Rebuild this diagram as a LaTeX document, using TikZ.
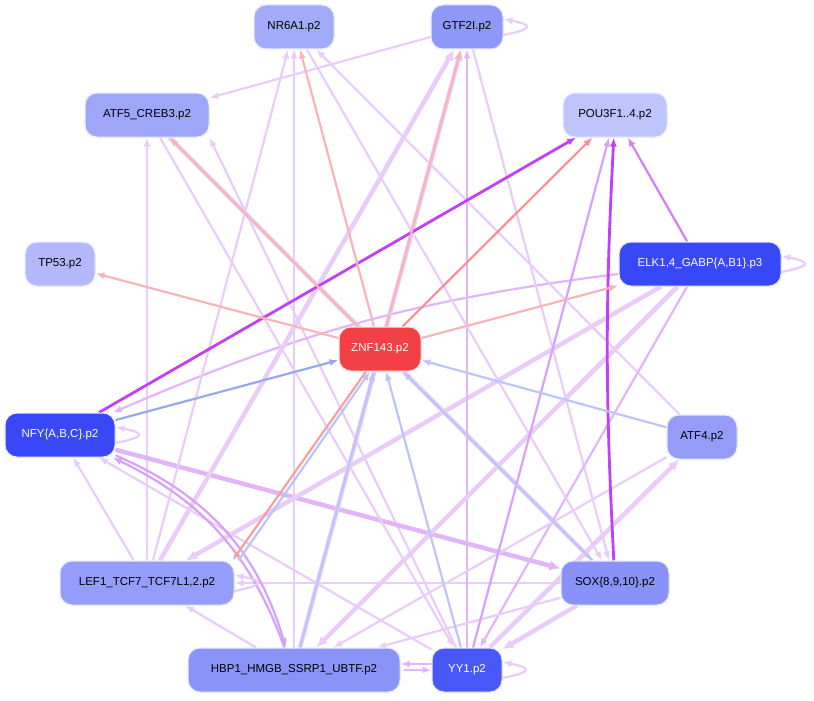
\documentclass[tikz,border=0pt]{standalone}
\usepackage{fontspec}
\setmainfont{Liberation Sans}
\usetikzlibrary{arrows.meta}
\definecolor{pinkL}{HTML}{F8B4B8}
\definecolor{pinkD}{HTML}{F8909A}
\definecolor{salm}{HTML}{F4A0A0}
\definecolor{blueA}{HTML}{98A8F0}
\definecolor{blueL}{HTML}{BCC4FA}
\definecolor{purT}{HTML}{C040F8}
\definecolor{purM}{HTML}{D080F8}
\definecolor{purL}{HTML}{D8A0F8}
\definecolor{lav}{HTML}{EACCFA}
\definecolor{lavM}{HTML}{E2B4F8}
\begin{document}
\begin{tikzpicture}[x=1pt,y=-1pt,
  n/.style={rectangle,rounded corners=12pt,minimum height=44pt,draw=blue!8,line width=1pt,font=\fontsize{11.5}{13}\selectfont,inner xsep=9pt},
  e/.style={-{Latex[length=9pt,width=7pt]},line width=2.2pt},
  t/.style={e,line width=4.5pt,-{Latex[length=11pt,width=10pt]}}]
\useasboundingbox (0,0) rectangle (814,701);
% nodes
\node[n,fill={rgb,255:red,162;green,170;blue,250},minimum width=80pt] (nr) at (294,27) {NR6A1.p2};
\node[n,fill={rgb,255:red,142;green,152;blue,248},minimum width=72pt] (gt) at (467,27) {GTF2I.p2};
\node[n,fill={rgb,255:red,158;green,166;blue,250},minimum width=124pt] (at5) at (147,115) {ATF5\_CREB3.p2};
\node[n,fill={rgb,255:red,190;green,196;blue,252},minimum width=104pt] (pou) at (615,115) {POU3F1..4.p2};
\node[n,fill={rgb,255:red,178;green,184;blue,250},minimum width=70pt] (tp) at (60,264) {TP53.p2};
\node[n,fill={rgb,255:red,56;green,72;blue,246},text=white,minimum width=162pt] (elk) at (700,264) {ELK1,4\_GABP\{A,B1\}.p3};
\node[n,fill={rgb,255:red,242;green,64;blue,70},text=white,minimum width=82pt,draw=red!10] (z) at (380,349) {ZNF143.p2};
\node[n,fill={rgb,255:red,56;green,72;blue,246},text=white,minimum width=110pt] (nfy) at (60,435) {NFY\{A,B,C\}.p2};
\node[n,fill={rgb,255:red,148;green,156;blue,248},minimum width=70pt] (at4) at (702,437) {ATF4.p2};
\node[n,fill={rgb,255:red,148;green,158;blue,250},minimum width=174pt] (lef) at (147,583) {LEF1\_TCF7\_TCF7L1,2.p2};
\node[n,fill={rgb,255:red,136;green,146;blue,248},minimum width=108pt] (sox) at (615,583) {SOX\{8,9,10\}.p2};
\node[n,fill={rgb,255:red,138;green,148;blue,248},minimum width=212pt] (hb) at (294,670) {HBP1\_HMGB\_SSRP1\_UBTF.p2};
\node[n,fill={rgb,255:red,72;green,88;blue,246},text=white,minimum width=70pt] (yy) at (467,670) {YY1.p2};
\begin{scope}[on background layer/.style={}]
% lavender
\draw[e,lav] (gt) -- (at5);
\draw[e,lav] (lef.north) ++(0,0) -- (at5.south);
\draw[e,lav] (yy) -- (at5.south east);
\draw[t,lav] (at5) -- (sox);
\draw[t,lavM] (nfy) -- (sox);
\draw[e,lavM] (elk) to[bend right=8] (nfy);
\draw[e,lav] (lef) -- (nfy);
\draw[e,lav] (yy) -- (nfy);
\draw[e,lav] (hb) -- (lef);
\draw[e,lav] (sox) -- (lef);
\draw[t,lav] (elk) -- (lef);
\draw[e,lav] (lef) -- (nr);
\draw[e,lav] (hb.north) -- (nr);
\draw[e,lav] (at4) -- (nr);
\draw[t,lav] (hb) -- (gt);
\draw[t,lav] (lef) -- (gt);
\draw[e,lavM] (yy) -- (gt);
\draw[e,lav] (gt) -- (sox);
\draw[t,lav] (elk) -- (hb);
\draw[e,lavM] (elk) -- (yy);
\draw[t,lav] (sox) -- (yy);
\draw[e,lav] (sox) -- (hb);
\draw[e,lav] (at4) -- (hb);
\draw[t,lav] (yy) -- (at4);
\draw[e,lav] (at5) -- (yy);
\draw[e,lav] (nr) -- (sox);
\draw[e,lavM] ([xshift=3pt]hb.east) -- (yy);
\draw[e,lavM] ([yshift=6pt]yy.west) -- ([yshift=6pt]hb.east);
\draw[e,purL] (nfy) to[bend left=25] (hb);
\draw[e,purL] (hb) to[bend right=22] (nfy);
% self loops
\draw[e,lav] ([yshift=-8pt]gt.east) .. controls +(30,-6) and +(30,6) .. ([yshift=8pt]gt.east);
\draw[e,lav] ([yshift=-8pt]elk.east) .. controls +(30,-6) and +(30,6) .. ([yshift=8pt]elk.east);
\draw[e,lav] ([yshift=-8pt]yy.east) .. controls +(30,-6) and +(30,6) .. ([yshift=8pt]yy.east);
\draw[e,lav] ([yshift=-8pt]nfy.east) .. controls +(30,-6) and +(30,6) .. ([yshift=8pt]nfy.east);
\draw[e,lav] ([yshift=-8pt]lef.east) .. controls +(30,-6) and +(30,6) .. ([yshift=8pt]lef.east);
% purple
\draw[e,purT,line width=2.8pt] (nfy) -- (pou);
\draw[e,purT,line width=2.8pt] (sox) to[bend left=3] (pou);
\draw[e,purM] (elk) -- (pou);
\draw[e,purL] (yy) -- (pou);
% blue to ZNF
\draw[e,blueA] (nfy) -- (z);
\draw[e,blueL] (at4) -- (z);
\draw[e,blueL] (sox) -- (z);
\draw[e,blueL] (yy) -- (z);
\draw[e,blueL] (hb) -- (z);
\draw[e,blueL] ([xshift=4pt]lef.north east) -- ([xshift=-10pt]z.south);
% pink from ZNF
\draw[e,pinkL] (z) -- (tp);
\draw[e,pinkL] (z) -- (at5);
\draw[e,pinkL] (z) -- (nr);
\draw[e,pinkL] (z) -- (gt);
\draw[e,pinkD] (z) -- (pou);
\draw[e,pinkL] (z) -- (elk);
\draw[e,salm] ([xshift=-14pt]z.south) -- ([xshift=-2pt]lef.north east);
\end{scope}
% redraw nodes on top
\node[n,fill={rgb,255:red,162;green,170;blue,250},minimum width=80pt] at (294,27) {NR6A1.p2};
\node[n,fill={rgb,255:red,142;green,152;blue,248},minimum width=72pt] at (467,27) {GTF2I.p2};
\node[n,fill={rgb,255:red,158;green,166;blue,250},minimum width=124pt] at (147,115) {ATF5\_CREB3.p2};
\node[n,fill={rgb,255:red,190;green,196;blue,252},minimum width=104pt] at (615,115) {POU3F1..4.p2};
\node[n,fill={rgb,255:red,178;green,184;blue,250},minimum width=70pt] at (60,264) {TP53.p2};
\node[n,fill={rgb,255:red,56;green,72;blue,246},text=white,minimum width=162pt] at (700,264) {ELK1,4\_GABP\{A,B1\}.p3};
\node[n,fill={rgb,255:red,242;green,64;blue,70},text=white,minimum width=82pt,draw=red!10] at (380,349) {ZNF143.p2};
\node[n,fill={rgb,255:red,56;green,72;blue,246},text=white,minimum width=110pt] at (60,435) {NFY\{A,B,C\}.p2};
\node[n,fill={rgb,255:red,148;green,156;blue,248},minimum width=70pt] at (702,437) {ATF4.p2};
\node[n,fill={rgb,255:red,148;green,158;blue,250},minimum width=174pt] at (147,583) {LEF1\_TCF7\_TCF7L1,2.p2};
\node[n,fill={rgb,255:red,136;green,146;blue,248},minimum width=108pt] at (615,583) {SOX\{8,9,10\}.p2};
\node[n,fill={rgb,255:red,138;green,148;blue,248},minimum width=212pt] at (294,670) {HBP1\_HMGB\_SSRP1\_UBTF.p2};
\node[n,fill={rgb,255:red,72;green,88;blue,246},text=white,minimum width=70pt] at (467,670) {YY1.p2};
\end{tikzpicture}
\end{document}
